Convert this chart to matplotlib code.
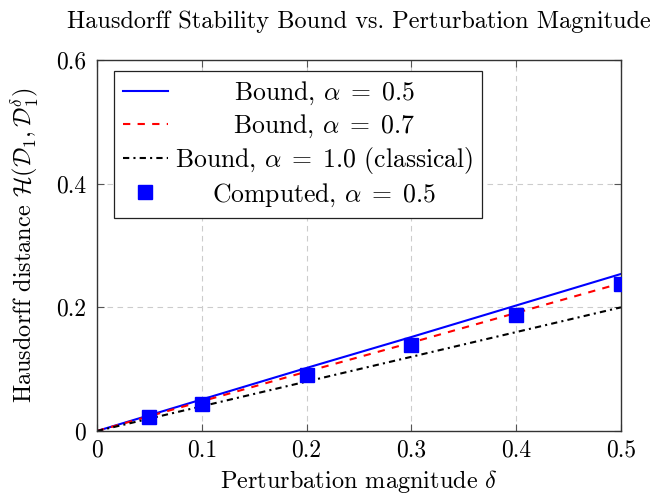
import matplotlib as mpl
mpl.use('Agg')
import matplotlib.pyplot as plt

# data
delta_line = [0.0, 0.1, 0.2, 0.3, 0.4, 0.5]
bound_a05 = [0.0, 0.051, 0.102, 0.152, 0.203, 0.254]
bound_a07 = [0.0, 0.048, 0.096, 0.143, 0.191, 0.239]
bound_a10 = [0.0, 0.04, 0.08, 0.12, 0.16, 0.2]

delta_pts = [0.05, 0.1, 0.2, 0.3, 0.4, 0.5]
computed_a05 = [0.022, 0.044, 0.090, 0.139, 0.187, 0.237]

xticks = [0, 0.1, 0.2, 0.3, 0.4, 0.5]
xticklabels = ['0', '0.1', '0.2', '0.3', '0.4', '0.5']
yticks = [0, 0.2, 0.4, 0.6]
yticklabels = ['0', '0.2', '0.4', '0.6']

plt.rcParams['font.family'] = 'serif'
plt.rcParams['font.serif'] = ['cmr10', 'DejaVu Serif']
plt.rcParams['mathtext.fontset'] = 'cm'
plt.rcParams['axes.formatter.use_mathtext'] = True

W, H = 655, 494
fig = plt.figure(figsize=(W / 100, H / 100), dpi=100)
ax = fig.add_axes([97 / W, 1 - 431 / H, (621 - 97) / W, (431 - 60) / H])

ax.plot(delta_line, bound_a05, color='blue', lw=1.5, label=r'Bound, $\alpha\;=\;0.5$')
ax.plot(delta_line, bound_a07, color='red', lw=1.5, ls=(0, (3.5, 3.5)), label=r'Bound, $\alpha\;=\;0.7$')
ax.plot(delta_line, bound_a10, color='black', lw=1.5, ls=(0, (3, 2, 1, 2)),
        label=r'Bound, $\alpha\;=\;1.0$ (classical)')
ax.plot(delta_pts, computed_a05, ls='none', marker='s', ms=10.5, color='blue',
        label=r'Computed, $\alpha\;=\;0.5$', zorder=5)

ax.set_xlim(0, 0.5)
ax.set_ylim(0, 0.6)
ax.set_xticks(xticks)
ax.set_xticklabels(xticklabels)
ax.set_yticks(yticks)
ax.set_yticklabels(yticklabels)
ax.tick_params(direction='in', top=True, right=True, labelsize=17, length=5,
               width=0.8, color='#555555')
ax.tick_params(axis='x', pad=6)
ax.tick_params(axis='y', pad=8)
ax.grid(True, color='#cccccc', ls=(0, (5, 4)), lw=0.8)
for s in ax.spines.values():
    s.set_linewidth(1.0)
    s.set_color('#333333')

leg = ax.legend(loc='upper left', bbox_to_anchor=(17 / 524, 1 - 11 / 371), fontsize=18.5,
                frameon=True, fancybox=False, edgecolor='#222222', framealpha=1,
                borderaxespad=0, handlelength=1.75, handletextpad=0.27,
                labelspacing=0.2, borderpad=0.35, numpoints=1)
leg.get_frame().set_linewidth(0.9)

# center legend texts like pgfplots does
fig.canvas.draw()
r = fig.canvas.get_renderer()
texts = leg.get_texts()
widths = [t.get_window_extent(r).width for t in texts]
wmax = max(widths)
for t, w in zip(texts, widths):
    t.set_x((wmax - w) / 2)

fig.text(359 / W, 1 - 22 / H, 'Hausdorff Stability Bound vs. Perturbation Magnitude',
         ha='center', va='center', fontsize=17.5)
fig.text(359 / W, 1 - 481 / H, r'Perturbation magnitude $\delta$',
         ha='center', va='center', fontsize=17.5)
fig.text(25 / W, 1 - 245 / H,
         r'Hausdorff distance $\mathcal{H}(\mathcal{D}_1, \mathcal{D}_1^\delta)$',
         ha='center', va='center', rotation=90, fontsize=17.5)

plt.savefig('out.png', dpi=100)
